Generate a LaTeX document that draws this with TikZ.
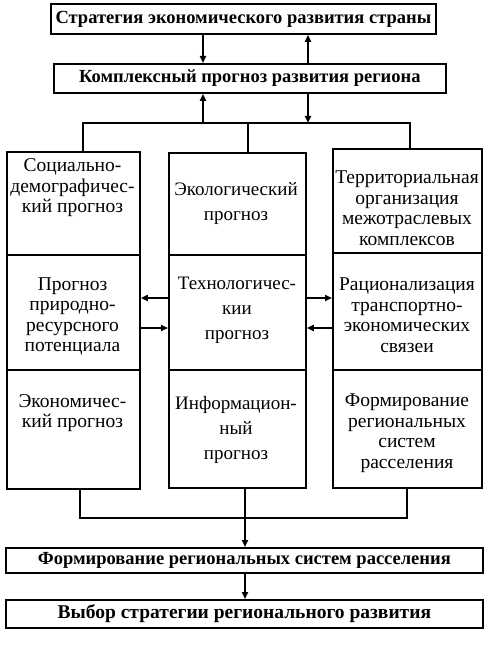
\documentclass[tikz,border=0pt]{standalone}
\usepackage{fontspec}
\setmainfont{Liberation Serif}
\usetikzlibrary{arrows.meta}
\begin{document}
\begin{tikzpicture}[x=1pt,y=-1pt,
  box/.style={draw, line width=1.8pt, inner sep=0pt, anchor=north west},
  hdr/.style={box, font=\bfseries\fontsize{18.5}{20}\selectfont},
  ctxt/.style={align=center, inner sep=0pt, font=\fontsize{19.5}{20.5}\selectfont},
  mtxt/.style={align=center, inner sep=0pt, font=\fontsize{19}{25}\selectfont},
  conn/.style={line width=1.7pt},
  arr/.style={conn, -{Triangle[length=7pt,width=6pt]}}]
\useasboundingbox (0,0) rectangle (491,650);

% header boxes
\node[hdr, minimum width=385pt, minimum height=30pt] (s1) at (50,3) {Стратегия экономического развития страны};
\node[hdr, minimum width=392pt, minimum height=29pt] (s2) at (53,63) {Комплексный прогноз развития региона};
\node[hdr, minimum width=477pt, minimum height=25pt] (f1) at (5,547) {Формирование региональных систем расселения};
\node[hdr, minimum width=477pt, minimum height=28pt, font=\bfseries\fontsize{19.5}{20}\selectfont] (f2) at (5,599) {Выбор стратегии регионального развития};

% column boxes
\node[box, minimum width=133pt, minimum height=103pt] (lt) at (6,151) {};
\node[box, minimum width=133pt, minimum height=115pt] (lm) at (6,254) {};
\node[box, minimum width=133pt, minimum height=119pt] (lb) at (6,369) {};
\node[box, minimum width=137pt, minimum height=102pt] (mt) at (168,152) {};
\node[box, minimum width=137pt, minimum height=115pt] (mm) at (168,254) {};
\node[box, minimum width=137pt, minimum height=118pt] (mb) at (168,369) {};
\node[box, minimum width=149pt, minimum height=104pt] (rt) at (332,148) {};
\node[box, minimum width=149pt, minimum height=117pt] (rm) at (332,252) {};
\node[box, minimum width=149pt, minimum height=118pt] (rb) at (332,369) {};

% texts
\node[ctxt] (ltt) at (72.5,188) {Социально-\\демографичес-\\кий прогноз};
\node[mtxt] (mtt) at (236,204) {Экологический\\прогноз};
\node[ctxt] (rtt) at (407,208) {Территориальная\\организация\\межотраслевых\\комплексов};
\node[ctxt] (lmt) at (72.5,316.5) {Прогноз\\природно-\\ресурсного\\потенциала};
\node[mtxt] (mmt) at (237,310) {Технологичес-\\кии\\прогноз};
\node[ctxt] (rmt) at (407,315) {Рационализация\\транспортно-\\экономических\\связеи};
\node[ctxt] (lbt) at (72.5,413) {Экономичес-\\кий прогноз};
\node[mtxt] (mbt) at (236,430) {Информацион-\\ный\\прогноз};
\node[ctxt] (rbt) at (407,433) {Формирование\\региональных\\систем\\расселения};

% helper coordinates
\coordinate (xa) at (203,0);
\coordinate (xb) at (308,0);
\coordinate (bl) at (83,123);
\coordinate (bm) at (248,123);
\coordinate (br) at (410,123);
\coordinate (ya) at (0,298);
\coordinate (yb) at (0,328);
\coordinate (jl) at (80,518);
\coordinate (jr) at (407,518);
\coordinate (xm) at (245,0);

% top connections
\draw[arr] (xa |- s1.south) -- (xa |- s2.north);
\draw[arr] (xb |- s2.north) -- (xb |- s1.south);
\draw[arr] (xa |- bl) -- (xa |- s2.south);
\draw[arr] (xb |- s2.south) -- (xb |- bl);
\draw[conn] (bl |- lt.north) -- (bl) -- (br) -- (br |- rt.north);
\draw[conn] (bm) -- (bm |- mt.north);

% side arrows
\draw[arr] (mm.west |- ya) -- (lm.east |- ya);
\draw[arr] (lm.east |- yb) -- (mm.west |- yb);
\draw[arr] (mm.east |- ya) -- (rm.west |- ya);
\draw[arr] (rm.west |- yb) -- (mm.east |- yb);

% bottom connections
\draw[conn] (jl |- lb.south) -- (jl) -- (jr) -- (jr |- rb.south);
\draw[arr] (xm |- mb.south) -- (xm |- f1.north);
\draw[arr] (xm |- f1.south) -- (xm |- f2.north);
\end{tikzpicture}
\end{document}
